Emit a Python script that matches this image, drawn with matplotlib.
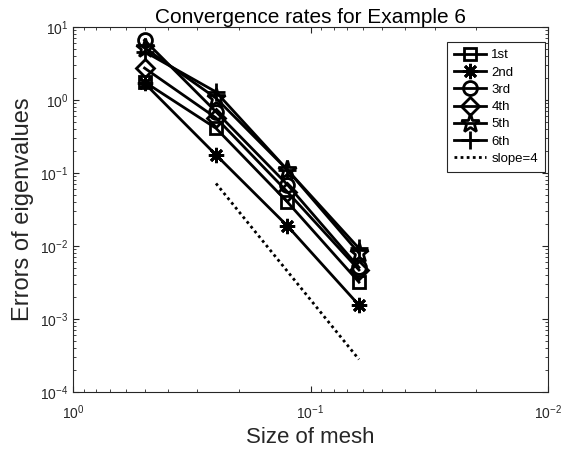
import matplotlib
matplotlib.use("Agg")
from matplotlib import pyplot as plt

plt.rcParams['font.family'] = ['Liberation Sans', 'DejaVu Sans']
plt.rcParams['mathtext.fontset'] = 'custom'
plt.rcParams['mathtext.rm'] = 'Liberation Sans'
plt.rcParams['mathtext.it'] = 'Liberation Sans:italic'
plt.rcParams['axes.unicode_minus'] = False

# mesh sizes and eigenvalue errors
mesh = [0.5, 0.25, 0.125, 0.0625]
err_1st = [1.77, 0.41, 0.040, 0.0032]
err_2nd = [1.70, 0.177, 0.0188, 0.00155]
err_3rd = [6.6, 0.69, 0.069, 0.0051]
err_4th = [2.74, 0.57, 0.055, 0.0047]
err_5th = [5.2, 1.06, 0.11, 0.0080]
err_6th = [4.6, 1.29, 0.11, 0.0093]
slope_x = [0.25, 0.0625]
slope_y = [0.072, 0.00028]

names = ['1st', '2nd', '3rd', '4th', '5th', '6th']
series = [err_1st, err_2nd, err_3rd, err_4th, err_5th, err_6th]
markers = ['s', (8, 2, 0), 'o', 'D', '*', '+']
msizes = [8, 11, 10, 9, 14, 13]
medges = [2, 2, 2, 2, 2, 2]

gray = '#262626'
fig = plt.figure(figsize=(5.62, 4.58), dpi=100)
ax = fig.add_axes([0.130, 0.144, 0.845, 0.797])

for name, vals, m, ms, me in zip(names, series, markers, msizes, medges):
    ax.plot(mesh, vals, color='black', lw=2, marker=m, markersize=ms,
            markerfacecolor='none', markeredgewidth=me, label=name)
ax.plot(slope_x, slope_y, color='black', lw=2, linestyle=(0, (1, 1.2)), label='slope=4')

ax.set_xscale('log')
ax.set_yscale('log')
ax.set_xlim(1, 0.01)
ax.set_ylim(1e-4, 10)

ax.tick_params(which='both', direction='in', top=True, right=True, colors=gray,
               labelsize=10, labelcolor=gray)
ax.tick_params(which='major', length=4)
ax.tick_params(which='minor', length=2)
ax.tick_params(axis='x', pad=8)
for s in ax.spines.values():
    s.set_color(gray)
    s.set_linewidth(0.8)

ax.set_xlabel('Size of mesh', fontsize=16, color=gray, labelpad=4)
ax.set_ylabel('Errors of eigenvalues', fontsize=17, color=gray, labelpad=4)
ax.set_title('Convergence rates for Example 6', fontsize=15, pad=3)

leg = ax.legend(loc='upper right', fontsize=9.5, handlelength=2.4, handletextpad=0.4,
                labelspacing=0.38, borderpad=0.55, fancybox=False, framealpha=1,
                edgecolor=gray, bbox_to_anchor=(0.994, 0.959), borderaxespad=0)
leg.get_frame().set_linewidth(0.8)

fig.savefig('out.png', dpi=100)
